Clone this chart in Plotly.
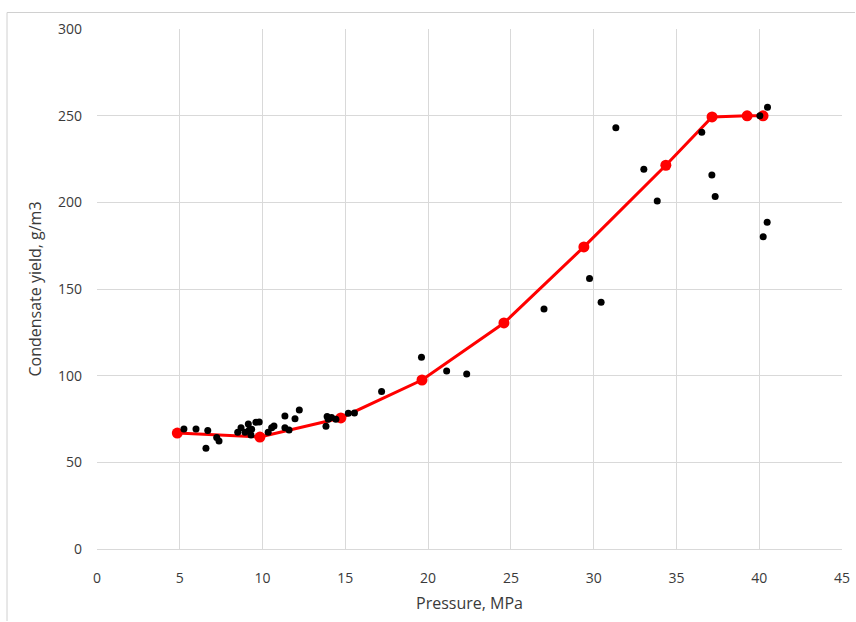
import plotly.graph_objects as go

# Measured condensate yield vs pressure (black dots)
pressure_obs = [5.25, 5.98, 6.69, 6.58, 7.23, 7.37, 8.5, 8.7, 8.94, 9.14, 9.2, 9.3,
                9.6, 9.34, 9.8, 10.34, 10.55, 10.69, 11.35, 11.35, 11.6, 11.96, 12.22,
                13.83, 13.97, 14.17, 14.43, 13.9, 15.18, 15.55, 17.19, 19.6, 21.12,
                22.33, 27.0, 29.75, 30.45, 31.34, 33.03, 33.84, 36.53, 37.14, 37.34,
                40.04, 40.5, 40.48, 40.24]
yield_obs = [69.2, 69.2, 68.3, 58.1, 64.3, 62.3, 67.3, 70, 67.3, 72.1, 68.7, 65.8,
             73.1, 69.1, 73.3, 67.3, 70, 71, 76.7, 70, 68.7, 75.2, 80.2,
             70.8, 74.8, 75.8, 74.8, 76.5, 78.3, 78.5, 90.8, 110.6, 102.7,
             101, 138.5, 156, 142.3, 243.1, 219.1, 200.8, 240.4, 215.8, 203.3,
             249.9, 254.9, 188.5, 180.2]

# Smoothed trend (red line with markers)
pressure_fit = [4.85, 9.84, 14.73, 19.63, 24.58, 29.41, 34.36, 37.15, 39.27, 40.23]
yield_fit = [66.9, 64.6, 75.6, 97.5, 130.4, 174.3, 221.4, 249.3, 249.9, 249.9]

x_ticks = [0, 5, 10, 15, 20, 25, 30, 35, 40, 45]
y_ticks = [0, 50, 100, 150, 200, 250, 300]

W, H = 856, 622
ML, MR, MT, MB = 97, 14, 29, 73
FONT = "Open Sans"
TXT = "#3a3a3a"
GRID = "#d9d9d9"

fig = go.Figure()
fig.add_trace(go.Scatter(
    x=pressure_fit, y=yield_fit, mode="lines+markers",
    line=dict(color="#ff0000", width=3),
    marker=dict(color="#ff0000", size=11, line=dict(color="#ff0000", width=0)),
    showlegend=False, hoverinfo="x+y"))
fig.add_trace(go.Scatter(
    x=pressure_obs, y=yield_obs, mode="markers",
    marker=dict(color="#000000", size=7),
    showlegend=False, hoverinfo="x+y"))

# Outer chart frame (top and left edges visible)
pw, ph = W - ML - MR, H - MT - MB
fx0 = (7 - ML) / pw
fy1 = (H - MB - 12.5) / ph
fig.add_shape(type="line", xref="paper", yref="paper",
              x0=fx0, x1=(W - 1 - ML) / pw, y0=fy1, y1=fy1,
              line=dict(color="#d0d0d0", width=1))
fig.add_shape(type="line", xref="paper", yref="paper",
              x0=fx0, x1=fx0, y0=fy1, y1=-(MB - 1) / ph,
              line=dict(color="#d0d0d0", width=1))

fig.update_layout(
    width=W, height=H,
    margin=dict(l=ML, r=MR, t=MT, b=MB, autoexpand=False),
    paper_bgcolor="white", plot_bgcolor="white",
    font=dict(family=FONT, size=14, color=TXT),
    xaxis=dict(range=[0, 45], tickvals=x_ticks, ticktext=[str(v) for v in x_ticks],
               showgrid=True, gridcolor=GRID, gridwidth=1, zeroline=False,
               showline=True, linecolor=GRID, ticks="", ticklabelstandoff=16,
               automargin=False,
               title=dict(text="Pressure, MPa", font=dict(size=16, color=TXT), standoff=12),
               fixedrange=True),
    yaxis=dict(range=[0, 300], tickvals=y_ticks, ticktext=[str(v) for v in y_ticks],
               showgrid=True, gridcolor=GRID, gridwidth=1, zeroline=False,
               showline=False, ticks="", ticklabelstandoff=14,
               automargin=False,
               title=dict(text="Condensate yield, g/m3", font=dict(size=16, color=TXT), standoff=12),
               fixedrange=True),
)

fig.write_html("out.html")
